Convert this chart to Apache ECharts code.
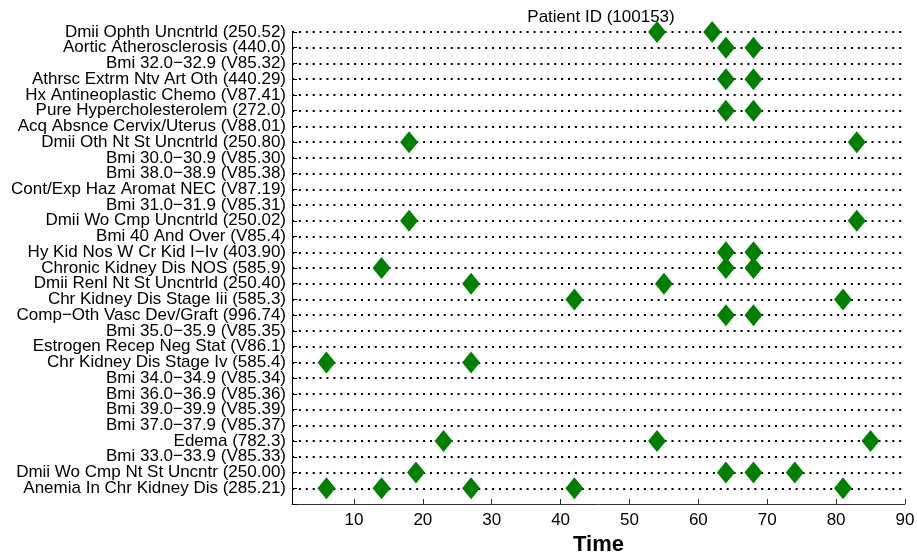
<!DOCTYPE html>
<html>
<head>
<meta charset="utf-8">
<script src="https://cdn.jsdelivr.net/npm/echarts@6/dist/echarts.min.js"></script>
<style>
  html, body { margin: 0; padding: 0; background: #fff; }
  #chart { width: 917px; height: 552px; }
</style>
</head>
<body>
<div id="chart"></div>
<script>
// rows, top to bottom
const diagnoses = [
  'Dmii Ophth Uncntrld (250.52)',
  'Aortic Atherosclerosis (440.0)',
  'Bmi 32.0−32.9 (V85.32)',
  'Athrsc Extrm Ntv Art Oth (440.29)',
  'Hx Antineoplastic Chemo (V87.41)',
  'Pure Hypercholesterolem (272.0)',
  'Acq Absnce Cervix/Uterus (V88.01)',
  'Dmii Oth Nt St Uncntrld (250.80)',
  'Bmi 30.0−30.9 (V85.30)',
  'Bmi 38.0−38.9 (V85.38)',
  'Cont/Exp Haz Aromat NEC (V87.19)',
  'Bmi 31.0−31.9 (V85.31)',
  'Dmii Wo Cmp Uncntrld (250.02)',
  'Bmi 40 And Over (V85.4)',
  'Hy Kid Nos W Cr Kid I−Iv (403.90)',
  'Chronic Kidney Dis NOS (585.9)',
  'Dmii Renl Nt St Uncntrld (250.40)',
  'Chr Kidney Dis Stage Iii (585.3)',
  'Comp−Oth Vasc Dev/Graft (996.74)',
  'Bmi 35.0−35.9 (V85.35)',
  'Estrogen Recep Neg Stat (V86.1)',
  'Chr Kidney Dis Stage Iv (585.4)',
  'Bmi 34.0−34.9 (V85.34)',
  'Bmi 36.0−36.9 (V85.36)',
  'Bmi 39.0−39.9 (V85.39)',
  'Bmi 37.0−37.9 (V85.37)',
  'Edema (782.3)',
  'Bmi 33.0−33.9 (V85.33)',
  'Dmii Wo Cmp Nt St Uncntr (250.00)',
  'Anemia In Chr Kidney Dis (285.21)',
]

// visit times per row, same order as diagnoses
const visitTimes = [
  [54, 62],
  [64, 68],
  [],
  [64, 68],
  [],
  [64, 68],
  [],
  [18, 83],
  [],
  [],
  [],
  [],
  [18, 83],
  [],
  [64, 68],
  [14, 64, 68],
  [27, 55],
  [42, 81],
  [64, 68],
  [],
  [],
  [6, 27],
  [],
  [],
  [],
  [],
  [23, 54, 85],
  [],
  [19, 64, 68, 74],
  [6, 14, 27, 42, 81],
]

const xTicks = [10, 20, 30, 40, 50, 60, 70, 80, 90]
const xMin = 1
const xMax = 90

// y categories bottom-up; an empty slot at the bottom leaves one row of space above the time axis
const yCategories = [''].concat(diagnoses.slice().reverse())

const points = []
visitTimes.forEach((times, i) => {
  times.forEach((t) => points.push([t, diagnoses[i]]))
})

const chart = echarts.init(document.getElementById('chart'), null, { renderer: 'canvas' })

chart.setOption({
  animation: false,
  textStyle: { fontFamily: 'Liberation Sans, Arial, sans-serif' },
  title: {
    text: 'Patient ID (100153)',
    left: 596,
    top: 4,
    textAlign: 'center',
    textStyle: { fontSize: 17, fontWeight: 'normal', color: '#000' },
  },
  grid: { left: 292, right: 12, top: 32, bottom: 48, outerBoundsMode: 'none', containLabel: false },
  xAxis: {
    type: 'value',
    min: xMin,
    max: xMax,
    name: 'Time',
    nameLocation: 'middle',
    nameGap: 27,
    nameTextStyle: { fontSize: 22, fontWeight: 'bold', color: '#000', verticalAlign: 'top' },
    axisLine: { show: true, lineStyle: { color: '#333', width: 1 } },
    axisTick: { show: true, inside: true, length: 5, customValues: xTicks, lineStyle: { color: '#333' } },
    axisLabel: { customValues: xTicks, fontSize: 17, color: '#000', margin: 8 },
    splitLine: { show: false },
  },
  yAxis: {
    type: 'category',
    data: yCategories,
    boundaryGap: false,
    axisLine: { show: true, lineStyle: { color: '#000', width: 1 } },
    axisTick: { show: true, inside: true, length: 5, interval: 0, lineStyle: { color: '#000' } },
    axisLabel: {
      interval: 0,
      fontSize: 17,
      lineHeight: 14,
      color: '#000',
      margin: 6,
    },
    splitLine: {
      show: true,
      interval: 0,
      showMinLine: false,
      showMaxLine: true,
      lineStyle: { color: '#000', width: 2, type: [2, 4.9] },
    },
  },
  series: [
    {
      name: 'visits',
      type: 'scatter',
      data: points,
      symbol: 'diamond',
      symbolSize: [18, 22],
      itemStyle: { color: '#008000', opacity: 1 },
      z: 5,
    },
  ],
})
</script>
</body>
</html>
